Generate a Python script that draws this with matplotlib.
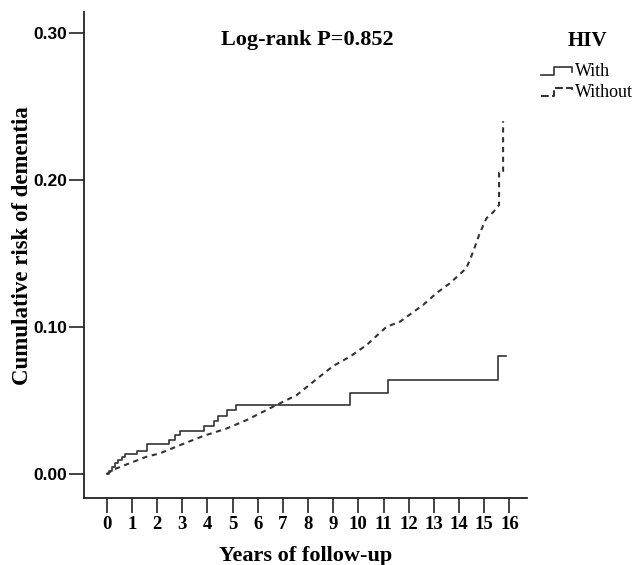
import matplotlib
matplotlib.use("Agg")
import matplotlib.pyplot as plt
from matplotlib.lines import Line2D
from matplotlib.legend_handler import HandlerBase

# Kaplan-Meier style cumulative risk curves
with_t = [0, 0.08, 0.2, 0.33, 0.47, 0.6, 0.73, 1.22, 1.62, 2.49, 2.72, 2.92,
          3.87, 4.27, 4.44, 4.77, 5.14, 9.67, 11.18, 15.55, 15.88]
with_r = [0, 0.002, 0.0045, 0.0077, 0.0095, 0.0113, 0.0136, 0.0159, 0.0202,
          0.0231, 0.0265, 0.0295, 0.0327, 0.0363, 0.0395, 0.0435, 0.0472,
          0.0549, 0.064, 0.0803, 0.0803]

without_t = [0, 0.27, 0.8, 1.59, 2.12, 2.92, 3.84, 4.77, 5.56, 6.09, 6.75, 7.55,
             8.21, 9.0, 9.66, 10.33, 11.12, 11.65, 12.57, 13.1, 13.63, 14.29,
             14.56, 14.82, 15.09, 15.35, 15.59, 15.59, 15.75, 15.75]
without_r = [0, 0.003, 0.0066, 0.0118, 0.0141, 0.0197, 0.0259, 0.031, 0.0367,
             0.0413, 0.047, 0.0537, 0.0628, 0.0735, 0.0798, 0.0878, 0.1002,
             0.1036, 0.115, 0.123, 0.1297, 0.14, 0.1512, 0.1637, 0.174, 0.178,
             0.183, 0.205, 0.205, 0.24]

x_ticks = list(range(0, 17))
y_ticks = [0.0, 0.1, 0.2, 0.3]
y_labels = ["0.00", "0.10", "0.20", "0.30"]

serif = "Liberation Serif"
sans = "Liberation Sans"
line_col = "#333333"


class StepHandler(HandlerBase):
    # little step-shaped legend icon like the SPSS output
    def create_artists(self, legend, orig_handle, xdescent, ydescent,
                       width, height, fontsize, trans):
        xs = [0, 0.4, 0.4, 0.95, 0.95]
        ys = [0.1, 0.1, 0.75, 0.75, 0.35]
        xs = [x * width - xdescent for x in xs]
        ys = [y * height - ydescent for y in ys]
        ln = Line2D(xs, ys, color=orig_handle.get_color(),
                    linestyle=orig_handle.get_linestyle(),
                    linewidth=orig_handle.get_linewidth())
        ln.set_transform(trans)
        return [ln]


fig = plt.figure(figsize=(6.34, 5.65), dpi=100)
ax = fig.add_axes([84 / 634, 1 - 498 / 565, 443 / 634, 486 / 565])

l1, = ax.plot(with_t, with_r, drawstyle="steps-post", color=line_col, lw=1.2,
              label="With")
l2, = ax.plot(without_t, without_r, color=line_col, lw=1.5,
              linestyle=(0, (2.5, 2.2)), label="Without")

ax.set_xlim(-0.9, 16.7)
ax.set_ylim(-0.0163, 0.3143)

ax.set_xticks(x_ticks)
ax.set_xticklabels([str(t) for t in x_ticks], fontfamily=serif,
                   fontweight="bold", fontsize=13.5)
ax.set_yticks(y_ticks)
ax.set_yticklabels(y_labels, fontfamily=sans, fontweight="bold", fontsize=12.5)
ax.tick_params(axis="both", direction="out", length=11, width=1.2,
               color="#222222")
ax.tick_params(axis="x", pad=2)
ax.tick_params(axis="y", pad=1)

for s in ["top", "right"]:
    ax.spines[s].set_visible(False)
for s in ["left", "bottom"]:
    ax.spines[s].set_linewidth(1.3)
    ax.spines[s].set_color("#222222")

ax.set_xlabel("Years of follow-up", fontfamily=serif, fontweight="bold",
              fontsize=16, labelpad=9)
ax.set_ylabel("Cumulative risk of dementia", fontfamily=serif,
              fontweight="bold", fontsize=16.5)
ax.yaxis.set_label_coords(-0.115, 0.52)

ax.text(0.503, 0.942, "Log-rank P=0.852", transform=ax.transAxes,
        ha="center", va="center", fontfamily=serif, fontweight="bold",
        fontsize=16)

leg = ax.legend(handles=[l1, l2], title="HIV", frameon=False,
                loc="upper left", bbox_to_anchor=(541 / 634, 1 - 31 / 565),
                bbox_transform=fig.transFigure,
                handler_map={Line2D: StepHandler()},
                handlelength=1.8, handletextpad=0.1, labelspacing=0.2,
                borderpad=0, borderaxespad=0,
                prop={"family": serif, "size": 13})
leg.get_title().set_fontfamily(serif)
leg.get_title().set_fontweight("bold")
leg.get_title().set_fontsize(15)
leg._legend_box.sep = 9

fig.savefig("out.png", dpi=100)
